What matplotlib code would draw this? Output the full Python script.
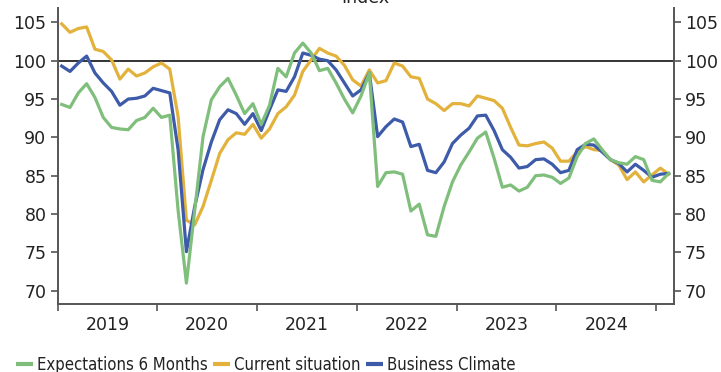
import numpy as np
import matplotlib
matplotlib.use("Agg")
import matplotlib.pyplot as plt
from matplotlib.lines import Line2D

# ifo-Index, Monatswerte Jan 2019 - Feb 2025
years = ["2019", "2020", "2021", "2022", "2023", "2024"]

expectations = [
    94.3, 93.9, 95.8, 97.0, 95.2, 92.6, 91.3, 91.1, 91.0, 92.2, 92.6, 93.8,
    92.6, 92.9, 80.5, 71.0, 80.5, 90.1, 94.9, 96.6, 97.7, 95.5, 93.1, 94.4,
    91.7, 94.2, 99.0, 97.9, 101.0, 102.3, 101.0, 98.7, 99.0, 97.1, 95.0, 93.2,
    95.4, 98.4, 83.6, 85.4, 85.5, 85.2, 80.4, 81.3, 77.3, 77.1, 81.0, 84.2,
    86.4, 88.1, 89.9, 90.7, 87.3, 83.5, 83.8, 83.0, 83.5, 85.0, 85.1, 84.8,
    84.0, 84.7, 87.5, 89.2, 89.8, 88.4, 87.1, 86.7, 86.5, 87.5, 87.1, 84.4,
    84.2, 85.3,
]

current = [
    104.8, 103.7, 104.2, 104.4, 101.5, 101.2, 100.1, 97.6, 98.9, 98.0, 98.4, 99.2,
    99.7, 98.9, 92.7, 79.2, 78.6, 81.0, 84.4, 87.9, 89.7, 90.6, 90.4, 91.7,
    89.9, 91.1, 93.1, 94.0, 95.5, 98.6, 100.1, 101.6, 101.0, 100.6, 99.4, 97.5,
    96.7, 98.8, 97.1, 97.4, 99.7, 99.3, 97.9, 97.7, 95.0, 94.4, 93.5, 94.4,
    94.4, 94.1, 95.4, 95.1, 94.8, 93.8, 91.3, 89.0, 88.9, 89.2, 89.4, 88.6,
    86.9, 86.9, 88.1, 88.8, 88.4, 88.3, 87.1, 86.4, 84.5, 85.5, 84.2, 85.1,
    86.0, 85.2,
]

climate = [
    99.3, 98.6, 99.7, 100.6, 98.4, 97.1, 96.0, 94.2, 95.0, 95.1, 95.4, 96.4,
    96.1, 95.8, 88.4, 75.1, 81.0, 85.8, 89.4, 92.3, 93.6, 93.1, 91.7, 93.1,
    90.9, 93.6, 96.2, 96.0, 97.9, 101.0, 100.7, 100.2, 100.0, 98.8, 97.1, 95.4,
    96.2, 98.4, 90.1, 91.4, 92.4, 92.0, 88.8, 89.1, 85.7, 85.4, 86.8, 89.2,
    90.3, 91.2, 92.8, 92.9, 90.9, 88.4, 87.4, 86.0, 86.2, 87.1, 87.2, 86.5,
    85.4, 85.7, 88.4, 89.1, 89.0, 88.1, 87.1, 86.6, 85.5, 86.5, 85.7, 84.8,
    85.2, 85.3,
]

green = "#7fbf7b"
yellow = "#e2b23c"
blue = "#3d5ba9"
spine_col = "#555555"
text_col = "#222222"

plt.rcParams["font.family"] = "DejaVu Sans"
plt.rcParams["font.size"] = 12.5

fig = plt.figure(figsize=(7.21, 3.72), dpi=100)
ax = fig.add_axes([0.0798, 0.1828, 0.8545, 0.7957])

# Monatspunkte in der Monatsmitte
x = np.arange(len(climate)) + 0.5

ax.axhline(100, color="#333333", lw=1.4, zorder=1)
ax.plot(x, current, color=yellow, lw=2.3, zorder=2)
ax.plot(x, climate, color=blue, lw=2.3, zorder=3)
ax.plot(x, expectations, color=green, lw=2.3, zorder=4)

ax.set_xlim(0, 74.1)
ax.set_ylim(68.28, 106.87)

ax.set_yticks(np.arange(70, 106, 5))
ax.tick_params(axis="y", which="major", left=True, right=True,
               labelleft=True, labelright=True, direction="out",
               length=5, width=1.2, color=spine_col, labelcolor=text_col, pad=3)

ax.set_xticks(np.arange(0, 12 * len(years) + 1, 12))
ax.set_xticklabels([])
ax.set_xticks(np.arange(6, 12 * len(years), 12), minor=True)
ax.set_xticklabels(years, minor=True)
ax.tick_params(axis="x", which="major", direction="out", length=5,
               width=1.2, color=spine_col)
ax.tick_params(axis="x", which="minor", length=0, pad=9, labelcolor=text_col)

ax.spines["top"].set_visible(False)
for s in ("left", "right", "bottom"):
    ax.spines[s].set_color(spine_col)
    ax.spines[s].set_linewidth(1.4)

fig.text(0.506, 1 - 3 / 372, "Index", ha="center", va="baseline",
         color=text_col)

handles = [
    Line2D([], [], color=green, lw=3, solid_capstyle="butt"),
    Line2D([], [], color=yellow, lw=3, solid_capstyle="butt"),
    Line2D([], [], color=blue, lw=3, solid_capstyle="butt"),
]
labels = ["Expectations 6 Months", "Current situation", "Business Climate"]
fig.legend(handles, labels, loc="center left", bbox_to_anchor=(0.022, 7 / 372),
           ncol=3, frameon=False, handlelength=1.0, handletextpad=0.25,
           columnspacing=0.35, borderaxespad=0, borderpad=0,
           prop={"family": "DejaVu Sans", "stretch": "condensed", "size": 12},
           labelcolor=text_col)

fig.savefig("out.png", dpi=100)
